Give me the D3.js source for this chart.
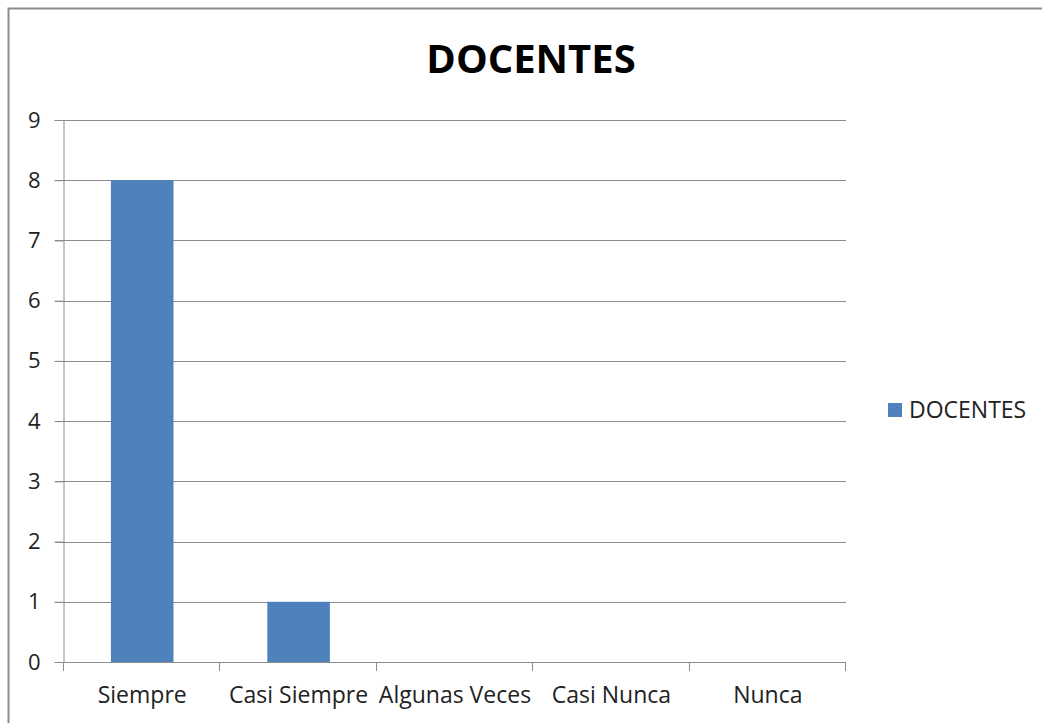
<!DOCTYPE html>
<html lang="es">
<head>
<meta charset="UTF-8">
<title>DOCENTES</title>
<script src="https://cdn.jsdelivr.net/npm/d3@7"></script>
<style>
  body { margin: 0; background: #fff; }
  text { font-family: "Open Sans", sans-serif; fill: #222; }
</style>
</head>
<body>
<div id="chart"></div>
<script>
var categorias = ['Siempre', 'Casi Siempre', 'Algunas Veces', 'Casi Nunca', 'Nunca']
var docentes = [8, 1, 0, 0, 0]
var yTicks = [0, 1, 2, 3, 4, 5, 6, 7, 8, 9]
var serie = 'DOCENTES'

var width = 1042, height = 723
var pIzq = 64, pDer = 846, pArr = 120, pAba = 662
var gris = '#8c8c8c', azul = '#4f81bd'

var svg = d3.select('#chart').append('svg')
    .attr('width', width).attr('height', height)

// marco (solo arriba e izquierda visibles)
svg.append('path')
    .attr('d', 'M8.5,' + height + 'V8.5H' + width)
    .attr('fill', 'none').attr('stroke', gris).attr('stroke-width', 2)

svg.append('text')
    .attr('x', 531).attr('y', 73)
    .attr('text-anchor', 'middle')
    .style('font-size', '40px').style('font-weight', 'bold')
    .style('fill', '#000')
    .text(serie)

var x = d3.scaleBand().domain(categorias).range([pIzq, pDer]).padding(0)
var y = d3.scaleLinear().domain([0, 9]).range([pAba, pArr])

// lineas de cuadricula
svg.append('g').selectAll('line')
    .data(yTicks.slice(1))
    .enter().append('line')
    .attr('x1', pIzq - 9).attr('x2', pDer)
    .attr('y1', function(d){ return Math.round(y(d)) + 0.5 })
    .attr('y2', function(d){ return Math.round(y(d)) + 0.5 })
    .attr('stroke', gris).attr('stroke-width', 1)

// barras
var bw = x.bandwidth() * 0.4
svg.append('g').selectAll('rect')
    .data(docentes)
    .enter().append('rect')
    .attr('x', function(d, i){ return x(categorias[i]) + (x.bandwidth() - bw) / 2 })
    .attr('width', bw)
    .attr('y', function(d){ return y(d) })
    .attr('height', function(d){ return y(0) - y(d) })
    .attr('fill', azul)

// eje Y
var yAxis = d3.axisLeft(y).tickValues(yTicks).tickSize(9).tickPadding(14).tickFormat(d3.format('d'))
var yG = svg.append('g')
    .attr('transform', 'translate(' + (pIzq - 0.5) + ',0)')
    .call(yAxis)
yG.select('.domain').attr('stroke', gris)
yG.selectAll('.tick line').attr('stroke', gris)
yG.selectAll('.tick text').style('font-size', '22px').style('fill', '#222')

// eje X: marcas en los limites de cada categoria
var bordes = categorias.map(function(c){ return x(c) }).concat([pDer])
var xG = svg.append('g')
xG.append('line')
    .attr('x1', pIzq - 9).attr('x2', pDer)
    .attr('y1', pAba + 0.5).attr('y2', pAba + 0.5)
    .attr('stroke', gris)
xG.selectAll('.marca').data(bordes).enter().append('line')
    .attr('class', 'marca')
    .attr('x1', function(d){ return Math.round(d) - 0.5 })
    .attr('x2', function(d){ return Math.round(d) - 0.5 })
    .attr('y1', pAba).attr('y2', pAba + 9)
    .attr('stroke', gris)
xG.selectAll('.etiqueta').data(categorias).enter().append('text')
    .attr('class', 'etiqueta')
    .attr('x', function(d){ return x(d) + x.bandwidth() / 2 })
    .attr('y', 703)
    .attr('text-anchor', 'middle')
    .style('font-size', '23px')
    .text(function(d){ return d })

// leyenda
var ley = svg.append('g').attr('transform', 'translate(888,403)')
ley.append('rect').attr('width', 14).attr('height', 14).attr('fill', azul)
ley.append('text').attr('x', 21).attr('y', 15).style('font-size', '23px').text(serie)
</script>
</body>
</html>
